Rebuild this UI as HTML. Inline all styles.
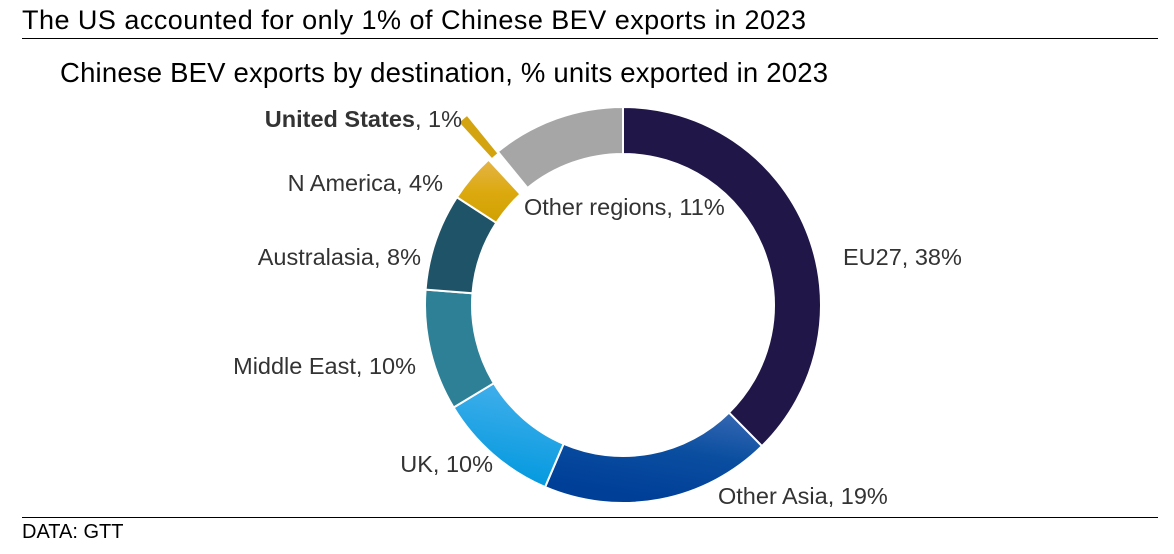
<!DOCTYPE html>
<html><head><meta charset="utf-8"><style>
html,body{margin:0;padding:0;background:#fff;}
body{width:1174px;height:549px;position:relative;overflow:hidden;font-family:"Liberation Sans",Arial,sans-serif;}
</style></head><body>
<svg width="1174" height="549" xmlns="http://www.w3.org/2000/svg" font-family="Liberation Sans, Arial, sans-serif">
<defs>
<linearGradient id="ga" x1="1" y1="0" x2="0.6" y2="1"><stop offset="0" stop-color="#3a6ab4"/><stop offset="0.5" stop-color="#0a4ea0"/><stop offset="1" stop-color="#003f98"/></linearGradient>
<linearGradient id="gu" x1="0.7" y1="0" x2="0.5" y2="1"><stop offset="0" stop-color="#45b0ec"/><stop offset="1" stop-color="#0098de"/></linearGradient>
<linearGradient id="gn" x1="0" y1="0" x2="0" y2="1"><stop offset="0" stop-color="#e4b448"/><stop offset="0.5" stop-color="#dcaa10"/><stop offset="1" stop-color="#d0a000"/></linearGradient>
</defs>
<text x="22" y="29" font-size="27" fill="#000" textLength="784">The US accounted for only 1% of Chinese BEV exports in 2023</text>
<line x1="22" y1="38.5" x2="1158" y2="38.5" stroke="#000" stroke-width="1"/>
<text x="60" y="82" font-size="27.5" fill="#000" textLength="768">Chinese BEV exports by destination, % units exported in 2023</text>
<g id="d"></g>
<g font-size="23.5" fill="#333">
<text x="462" y="127" text-anchor="end"><tspan font-weight="bold">United States</tspan>, 1%</text>
<text x="443" y="191" text-anchor="end">N America, 4%</text>
<text x="524" y="215">Other regions, 11%</text>
<text x="421" y="265" text-anchor="end">Australasia, 8%</text>
<text x="843" y="265">EU27, 38%</text>
<text x="416" y="374" text-anchor="end">Middle East, 10%</text>
<text x="493" y="472" text-anchor="end">UK, 10%</text>
<text x="718" y="504">Other Asia, 19%</text>
</g>
<line x1="22" y1="517.5" x2="1158" y2="517.5" stroke="#000" stroke-width="1"/>
<text x="22" y="538" font-size="20" fill="#000">DATA: GTT</text>
</svg>
<script>
var cx=623,cy=305,R=198,r=151;
var segs=[[0,135.45,"#201748"],[135.45,203.17,"url(#ga)"],[203.17,238.81,"url(#gu)"],[238.81,274.46,"#2e8096"],[274.46,302.97,"#1f5468"],[302.97,317.23,"url(#gn)"],[317.6,321.0,"#d4a410",46],[320.79,360,"#a6a6a6"]];
function p(a,rad,ox,oy){var t=a*Math.PI/180;return [(cx+ox+rad*Math.sin(t)).toFixed(2),(cy+oy-rad*Math.cos(t)).toFixed(2)];}
var g=document.getElementById("d"),h="";
segs.forEach(function(s){var off=s[3]||0,m=(s[0]+s[1])/2*Math.PI/180,ox=off*Math.sin(m),oy=-off*Math.cos(m);
var rr=off?150:r,RR=off?200:R;
var a=p(s[0],RR,ox,oy),b=p(s[1],RR,ox,oy),c=p(s[1],rr,ox,oy),d=p(s[0],rr,ox,oy),l=(s[1]-s[0])>180?1:0;
h+='<path d="M'+a+' A'+RR+' '+RR+' 0 '+l+' 1 '+b+' L'+c+' A'+rr+' '+rr+' 0 '+l+' 0 '+d+' Z" fill="'+s[2]+'" stroke="#fff" stroke-width="2"/>';});
g.innerHTML=h;
</script>
</body></html>
